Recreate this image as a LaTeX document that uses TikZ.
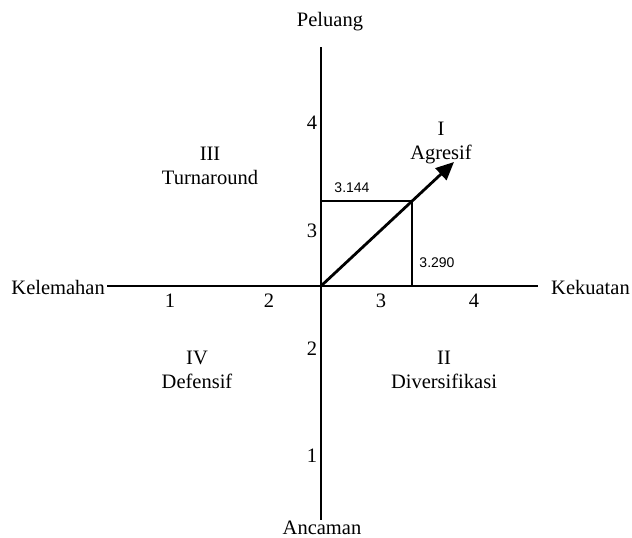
\documentclass[tikz,border=0pt]{standalone}
\usepackage{fontspec}
\setmainfont{Liberation Serif}
\newfontfamily\numfont{Liberation Sans}
\usetikzlibrary{arrows.meta}
\begin{document}
\begin{tikzpicture}[x=1pt,y=-1pt,
  lbl/.style={font=\fontsize{20.5}{23}\selectfont, inner sep=0pt},
  quad/.style={font=\fontsize{20.5}{24.5}\selectfont, align=center, inner sep=0pt},
  val/.style={font=\numfont\fontsize{14}{16}\selectfont, inner sep=0pt},
  axis/.style={line width=2.8pt},
  box/.style={line width=2pt}]
\useasboundingbox (0,0) rectangle (632,538);
% axes ends
\coordinate (O) at (321,286);
\coordinate (T) at (321,47);
\coordinate (B) at (321,520);
\coordinate (L) at (107,286);
\coordinate (R) at (538,286);
\coordinate (P) at (412,201);
\coordinate (Pv) at (321,201);
\coordinate (Ph) at (412,286);
\coordinate (Tip) at (454,162);
\draw[axis] (T) -- (B);
\draw[axis] (L) -- (R);
\draw[box] (Pv) -- (P) -- (Ph);
\draw[line width=2.8pt, -{Triangle[length=18pt,width=16pt]}] (O) -- (Tip);
% axis labels
\node[lbl] (peluang) at (330,22) {Peluang};
\node[lbl, anchor=base] (ancaman) at (322,534) {Ancaman};
\node[lbl, anchor=east] (kelemahan) at (105,287) {Kelemahan};
\node[lbl, anchor=west] (kekuatan) at (551,287) {Kekuatan};
% ticks
\node[lbl] (y4) at (312,123) {4};
\node[lbl] (y3) at (312,231) {3};
\node[lbl] (y2) at (312,349) {2};
\node[lbl] (y1) at (312,456) {1};
\node[lbl] (x1) at (170,301) {1};
\node[lbl] (x2) at (269,301) {2};
\node[lbl] (x3) at (381,301) {3};
\node[lbl] (x4) at (474,301) {4};
% quadrants
\node[quad] (q3) at (210,166) {III\\Turnaround};
\node[quad] (q1) at (441,143) {I\\Agresif};
\node[quad] (q4) at (197,370) {IV\\Defensif};
\node[quad] (q2) at (444,370) {II\\Diversifikasi};
% values
\node[val] (v1) at (352,188) {3.144};
\node[val] (v2) at (437,263) {3.290};
\end{tikzpicture}
\end{document}
